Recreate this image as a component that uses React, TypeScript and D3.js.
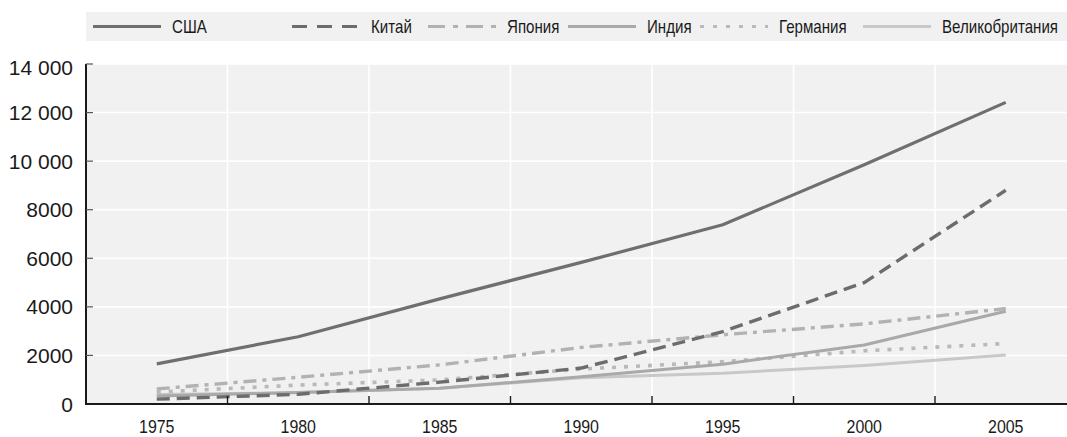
import React from 'react';
import * as d3 from 'd3';

// data (GDP, billions)
const years = [1975, 1980, 1985, 1990, 1995, 2000, 2005];
const seriesNames = ['США', 'Китай', 'Япония', 'Индия', 'Германия', 'Великобритания'];
const usa = [1650, 2770, 4330, 5830, 7380, 9850, 12420];
const china = [200, 400, 900, 1480, 2980, 5000, 8800];
const japan = [620, 1100, 1610, 2330, 2850, 3300, 3930];
const india = [330, 470, 650, 1120, 1640, 2430, 3820];
const germany = [490, 780, 990, 1440, 1740, 2190, 2490];
const uk = [390, 470, 650, 1080, 1270, 1590, 2020];
const yTicks = [0, 2000, 4000, 6000, 8000, 10000, 12000, 14000];
const yTickLabels = ['0', '2000', '4000', '6000', '8000', '10 000', '12 000', '14 000'];
const xLabels = ['1975', '1980', '1985', '1990', '1995', '2000', '2005'];
const xGrid = [1977.5, 1982.5, 1987.5, 1992.5, 1997.5, 2002.5];

const allSeries = [usa, china, japan, india, germany, uk];

// styles (draw order: light ones first so dark lines sit on top)
const styles = [
  { color: '#6f6f6f', dash: null, legendDash: null, width: 3.2 },
  { color: '#6c6c6c', dash: '13,7', legendDash: '15,10', width: 3.4 },
  { color: '#b2b2b2', dash: '13,6,4,6', legendDash: '17,8,5,8', width: 3.4 },
  { color: '#a9a9a9', dash: null, legendDash: null, width: 3 },
  { color: '#b9b9b9', dash: '4,8', legendDash: '4,9', width: 3.6 },
  { color: '#c8c8c8', dash: null, legendDash: null, width: 3 },
];
const drawOrder = [5, 4, 3, 2, 1, 0];
const legendX = [93, 292, 428, 568, 700, 863];

const W = 1067;
const H = 437;
const plotLeft = 86;
const plotTop = 64;
const plotBottom = 404;

const sans = '"Liberation Sans", Arial, sans-serif';

// narrow text: Liberation Sans squeezed horizontally, like Arial Narrow
function NarrowText({ x, y, size, anchor, children }: any) {
  return (
    <text
      transform={`translate(${x},${y}) scale(0.84,1)`}
      textAnchor={anchor || 'start'}
      fontFamily={sans}
      fontSize={size}
      fill="#1a1a1a"
    >
      {children}
    </text>
  );
}

export default function App() {
  const x = d3.scaleLinear().domain([1972.5, 2007.5]).range([plotLeft, plotLeft + 35 * 28.3]);
  const y = d3.scaleLinear().domain([0, 14000]).range([plotBottom, plotTop]);

  const line = d3.line<number>()
    .x((d, i) => x(years[i]))
    .y((d) => y(d));

  return (
    <svg width={W} height={H} style={{ position: 'absolute', left: 0, top: 0, background: '#fff' }}>
      {/* legend band */}
      <rect x={86} y={12} width={W - 86} height={29} fill="#f1f1f1" />
      {seriesNames.map((name, i) => (
        <g key={name}>
          <line
            x1={legendX[i]} x2={legendX[i] + 68} y1={26.5} y2={26.5}
            stroke={styles[i].color}
            strokeWidth={3}
            strokeDasharray={styles[i].legendDash || undefined}
          />
          <NarrowText x={legendX[i] + 79} y={33} size={18}>{name}</NarrowText>
        </g>
      ))}

      {/* plot background */}
      <rect x={plotLeft} y={plotTop} width={W - plotLeft} height={plotBottom - plotTop} fill="#f1f1f1" />

      {/* grid */}
      {yTicks.slice(1).map((t) => (
        <line key={'gy' + t} x1={plotLeft} x2={W} y1={y(t)} y2={y(t)} stroke="#fff" strokeWidth={1.6} />
      ))}
      {xGrid.map((g) => (
        <line key={'gx' + g} x1={x(g)} x2={x(g)} y1={plotTop} y2={plotBottom} stroke="#fff" strokeWidth={1.6} />
      ))}

      {/* series */}
      {drawOrder.map((i) => (
        <path
          key={'s' + i}
          d={line(allSeries[i]) || ''}
          fill="none"
          stroke={styles[i].color}
          strokeWidth={styles[i].width}
          strokeDasharray={styles[i].dash || undefined}
          strokeLinejoin="round"
        />
      ))}

      {/* axes */}
      <line x1={plotLeft} x2={plotLeft} y1={plotTop} y2={plotBottom + 1} stroke="#1a1a1a" strokeWidth={2} />
      <line x1={plotLeft - 1} x2={W} y1={plotBottom} y2={plotBottom} stroke="#1a1a1a" strokeWidth={2} />
      {yTicks.slice(1).map((t) => (
        <line key={'ty' + t} x1={plotLeft} x2={plotLeft + 7} y1={y(t)} y2={y(t)} stroke="#555" strokeWidth={1.2} />
      ))}
      {xGrid.map((g) => (
        <line key={'tx' + g} x1={x(g)} x2={x(g)} y1={plotBottom} y2={plotBottom - 8} stroke="#1a1a1a" strokeWidth={1.4} />
      ))}

      {yTicks.map((t, i) => (
        <text key={'ly' + t} x={73} y={y(t) + 7.5 + (i === yTicks.length - 1 ? 3 : 0)} textAnchor="end"
          fontFamily={sans} fontSize={21} fill="#1a1a1a">
          {yTickLabels[i]}
        </text>
      ))}
      {years.map((yr, i) => (
        <NarrowText key={'lx' + yr} x={x(yr)} y={432.5} size={19} anchor="middle">{xLabels[i]}</NarrowText>
      ))}
    </svg>
  );
}
